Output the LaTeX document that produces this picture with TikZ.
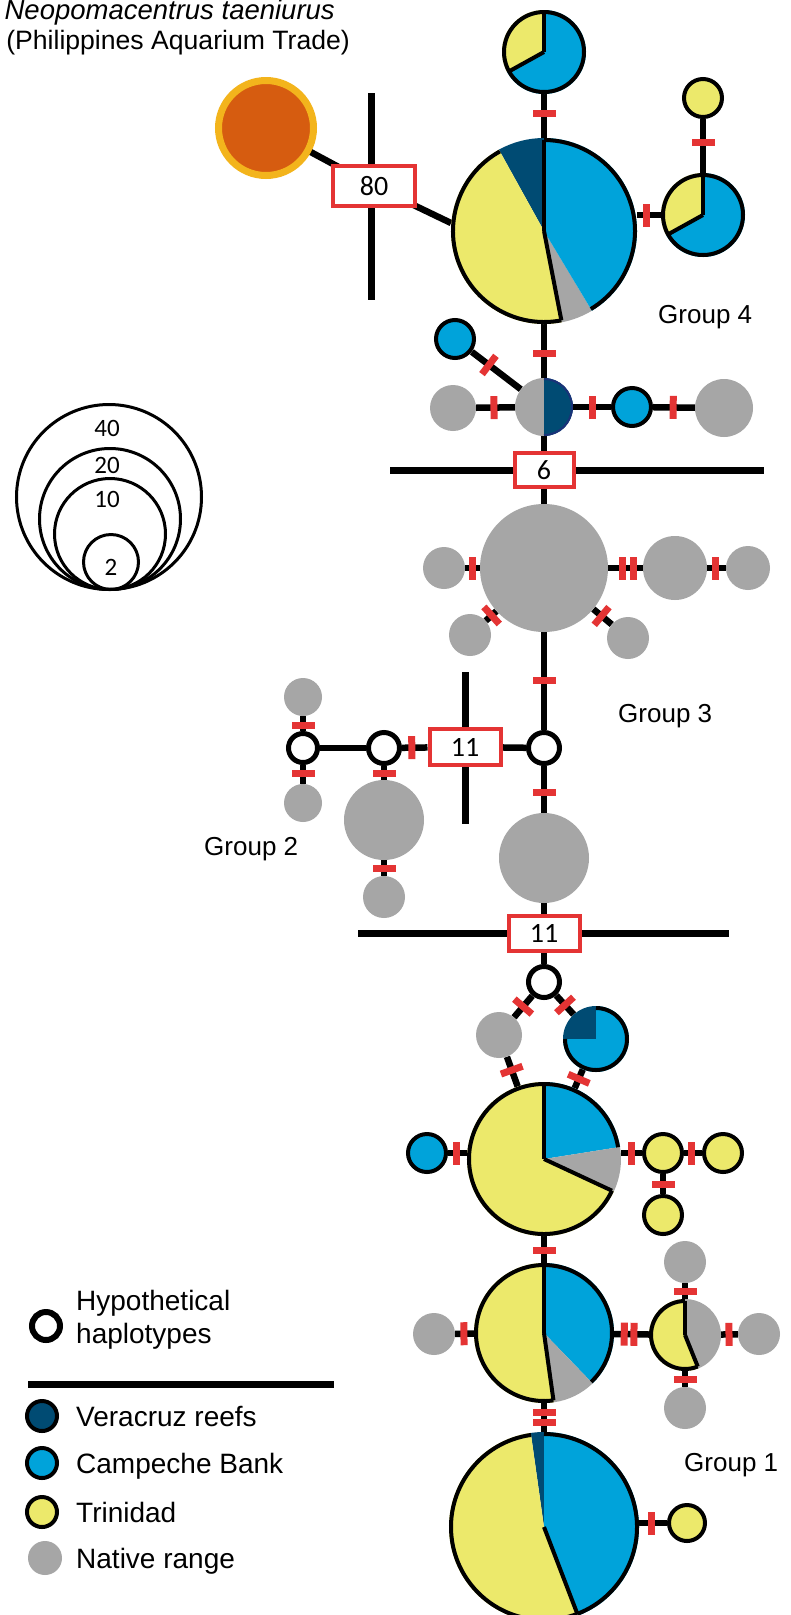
\documentclass[tikz,border=0pt]{standalone}
\usepackage{fontspec}
\setmainfont{Liberation Sans}
\newfontfamily\numfont{Carlito}
\usetikzlibrary{calc}
\definecolor{cblue}{RGB}{0,163,218}
\definecolor{cyel}{RGB}{236,233,107}
\definecolor{cnavy}{RGB}{0,75,115}
\definecolor{cgrey}{RGB}{166,166,166}
\definecolor{cred}{RGB}{228,52,52}
\definecolor{corange}{RGB}{214,92,16}
\definecolor{cdorange}{RGB}{168,66,14}
\definecolor{cgold}{RGB}{243,180,28}
\definecolor{cnavyrim}{RGB}{26,50,120}
\pgfdeclareradialshading{orangeglow}{\pgfpoint{0bp}{0bp}}{color(0bp)=(corange); color(33bp)=(corange); color(50bp)=(cdorange)}
\pgfdeclarelayer{bg}\pgfsetlayers{bg,main}
\tikzset{
  hap/.style={circle, inner sep=0pt, minimum size=2*#1},
  link/.style={line width=6.5pt, black},
  barrier/.style={line width=7pt, black},
  tick/.style={rectangle, fill=cred, inner sep=0pt, minimum width=7pt, minimum height=23pt, sloped},
  mbox/.style={draw=cred, line width=4pt, fill=white, inner sep=0pt, font=\numfont\fontsize{28}{28}\selectfont},
  rim/.style={draw=black, line width=4pt},
  spoke/.style={draw=black, line width=4pt},
  grouplab/.style={anchor=base west, inner sep=0pt, font=\fontsize{26}{30}\selectfont},
  legtext/.style={anchor=base west, inner sep=0pt, font=\fontsize{28}{32}\selectfont},
  sizering/.style={circle, draw=black, line width=3pt, inner sep=0pt},
  sizelab/.style={inner sep=0pt, font=\numfont\fontsize{25}{25}\selectfont},
  titletext/.style={anchor=base east, inner sep=0pt, font=\fontsize{26.6}{32}\selectfont},
}
\newcommand{\pieslice}[5]{\fill[#5] (#1.center) -- ++(#3:#2pt) arc[start angle=#3, end angle=#4, radius=#2pt] -- cycle;}
\newcommand{\rimarc}[4]{\draw[rim] (#1.center) ++(#3:#2pt) arc[start angle=#3, end angle=#4, radius=#2pt];}
\newcommand{\pspoke}[3]{\draw[spoke] (#1.center) -- ++(#3:#2pt);}
\newcommand{\gdisc}[3]{\fill[#3] (#1.center) circle[radius=#2pt];}
\newcommand{\bdisc}[3]{\filldraw[fill=#3, rim] (#1.center) circle[radius=#2pt];}
\newcommand{\hypnode}[2]{\filldraw[fill=white, draw=black, line width=5pt] (#1.center) circle[radius=#2pt];}
\begin{document}
\begin{tikzpicture}[x=1pt,y=1pt]
\useasboundingbox (0,0) rectangle (791,-1615);
% ---------- nodes ----------
\node[hap=51pt] (O) at (266,-128) {};
\node[hap=42pt] (T1) at (544,-52) {};
\node[hap=21pt] (T3) at (703,-98) {};
\node[hap=42pt] (T2) at (703,-215) {};
\node[hap=93pt] (G4) at (544,-231) {};
\coordinate (g4w) at (451,-223);
\node[hap=21pt] (B1) at (455,-339) {};
\node[hap=29pt] (GN) at (544,-407) {};
\node[hap=23pt] (GL) at (453,-408) {};
\node[hap=21pt] (BR) at (632,-407) {};
\node[hap=29pt] (GR) at (724,-408) {};
\node[hap=64pt] (G3) at (544,-568) {};
\node[hap=21pt] (G3L) at (444,-568) {};
\node[hap=32pt] (G3R1) at (675,-568) {};
\node[hap=22pt] (G3R2) at (748,-568) {};
\node[hap=21pt] (G3LL) at (470,-635) {};
\node[hap=21pt] (G3LR) at (628,-638) {};
\node[hap=18pt] (H3) at (544,-748) {};
\node[hap=45pt] (G3b) at (544,-858) {};
\node[hap=18pt] (H2a) at (384,-748) {};
\node[hap=17pt] (H2b) at (303,-748) {};
\node[hap=40pt] (G2) at (384,-820) {};
\node[hap=21pt] (G2s) at (384,-897) {};
\node[hap=19pt] (H2bU) at (303,-697) {};
\node[hap=19pt] (H2bD) at (303,-803) {};
\node[hap=18pt] (H1) at (544,-982) {};
\node[hap=23pt] (GG1) at (499,-1035) {};
\node[hap=33pt] (BN) at (596,-1039) {};
\node[hap=77pt] (G1a) at (544,-1159) {};
\node[hap=21pt] (G1aL) at (427,-1153) {};
\node[hap=21pt] (Y1) at (663,-1153) {};
\node[hap=21pt] (Y2) at (723,-1153) {};
\node[hap=21pt] (Y3) at (663,-1215) {};
\node[hap=70pt] (G1b) at (544,-1333) {};
\node[hap=21pt] (G1bL) at (434,-1334) {};
\node[hap=36pt] (SP) at (685,-1335) {};
\node[hap=21pt] (SPU) at (685,-1262) {};
\node[hap=21pt] (SPD) at (685,-1408) {};
\node[hap=21pt] (SPR) at (759,-1334) {};
\node[hap=95pt] (G1c) at (544,-1527) {};
\node[hap=20pt] (Y4) at (687,-1523) {};
% boxes
\node[mbox, minimum width=82pt, minimum height=40pt] (b80) at (374,-186) {80};
\node[mbox, minimum width=59pt, minimum height=34pt] (b6) at (544,-470) {6};
\node[mbox, minimum width=71pt, minimum height=36pt] (b11a) at (465,-747) {11};
\node[mbox, minimum width=71pt, minimum height=35pt] (b11b) at (544,-933) {11};
% barrier coordinates
\coordinate (v80t) at (371,-93); \coordinate (v80b) at (371,-300);
\coordinate (h6l) at (390,-470); \coordinate (h6r) at (764,-470);
\coordinate (v11t) at (465,-672); \coordinate (v11b) at (465,-824);
\coordinate (h11l) at (358,-933); \coordinate (h11r) at (729,-933);
\coordinate (legl) at (28,-1384); \coordinate (legr) at (334,-1384);
% ---------- connectors (background) ----------
\begin{pgfonlayer}{bg}
\fill[white] (0,0) rectangle (791,-1615);
\draw[barrier] (v80t) -- (v80b);
\draw[barrier] (h6l) -- (h6r);
\draw[barrier] (v11t) -- (v11b);
\draw[barrier] (h11l) -- (h11r);
\draw[barrier] (legl) -- (legr);
\draw[link] (O.center) -- (b80.center) -- (g4w);
\draw[link] (T1) -- node[tick,pos=0.45]{} (G4);
\draw[link] (T3) -- node[tick,pos=0.43]{} (T2);
\draw[link] (T2.west) -- node[tick,pos=0.62]{} (T2.west -| G4.east);
\draw[link] (G4) -- node[tick,pos=0.54]{} (GN);
\draw[link] (B1) -- node[tick,pos=0.35]{} (GN);
\draw[link] (GL) -- node[tick,pos=0.46]{} (GN);
\draw[link] (GN) -- node[tick,pos=0.5]{} (BR);
\draw[link] (BR) -- node[tick,pos=0.48]{} (GR);
\draw[link] (GN) -- (b6);
\draw[link] (b6) -- (G3);
\draw[link] (G3L) -- node[tick,pos=0.5]{} (G3);
\draw[link] (G3) -- node[tick,pos=0.4]{} node[tick,pos=0.72]{} (G3R1);
\draw[link] (G3R1) -- node[tick,pos=0.45]{} (G3R2);
\draw[link] (G3) -- node[tick,pos=0.45]{} (G3LL);
\draw[link] (G3) -- node[tick,pos=0.45]{} (G3LR);
\draw[link] (G3) -- node[tick,pos=0.49]{} (H3);
\draw[link] (H3) -- node[tick,pos=0.57]{} (G3b);
\draw[link] (G3b) -- (b11b);
\draw[link] (b11b) -- (H1);
\draw[link] (H3) -- (b11a);
\draw[link] (H2a) -- node[tick,pos=0.38]{} (b11a);
\draw[link] (H2b) -- (H2a);
\draw[link] (H2a) -- node[tick,pos=0.5]{} (G2);
\draw[link] (G2) -- node[tick,pos=0.5]{} (G2s);
\draw[link] (H2bU) -- node[tick,pos=0.64]{} (H2b);
\draw[link] (H2b) -- node[tick,pos=0.47]{} (H2bD);
\draw[link] (H1) -- node[tick,pos=0.5]{} (GG1);
\draw[link] (H1) -- node[tick,pos=0.5]{} (BN);
\draw[link] (GG1) -- node[tick,pos=0.45]{} (G1a);
\draw[link] (BN) -- node[tick,pos=0.5]{} (G1a);
\draw[link] (G1aL) -- node[tick,pos=0.47]{} (G1aL -| G1a.west);
\draw[link] (G1a.east |- Y1) -- node[tick,pos=0.48]{} (Y1);
\draw[link] (Y1) -- node[tick,pos=0.44]{} (Y2);
\draw[link] (Y1) -- node[tick,pos=0.5]{} (Y3);
\draw[link] (G1a) -- node[tick,pos=0.52]{} (G1b);
\draw[link] (G1bL) -- node[tick,pos=0.47]{} (G1b);
\draw[link] (G1b) -- node[tick,pos=0.29]{} node[tick,pos=0.57]{} (SP);
\draw[link] (SPU) -- node[tick,pos=0.56]{} (SP);
\draw[link] (SP) -- node[tick,pos=0.56]{} (SPD);
\draw[link] (SP) -- node[tick,pos=0.47]{} (SPR);
\draw[link] (G1b) -- node[tick,pos=0.31]{} node[tick,pos=0.69]{} (G1c);
\draw[link] (G1c.east |- Y4) -- node[tick,pos=0.46]{} (Y4);
\end{pgfonlayer}
% ---------- haplotype drawings ----------
% orange outgroup
\shade[shading=orangeglow] (O.center) circle[radius=45pt];
\draw[draw=cgold, line width=7pt] (O.center) circle[radius=47.5pt];
% Group 4
\pieslice{T1}{42}{90}{209}{cyel}\pieslice{T1}{42}{209}{450}{cblue}
\pspoke{T1}{40}{90}\pspoke{T1}{40}{209}\draw[rim] (T1.center) circle[radius=40pt];
\pieslice{T2}{42}{90}{209}{cyel}\pieslice{T2}{42}{209}{450}{cblue}
\pspoke{T2}{40}{90}\pspoke{T2}{40}{209}\draw[rim] (T2.center) circle[radius=40pt];
\bdisc{T3}{19}{cyel}
\pieslice{G4}{93}{90}{119}{cnavy}
\pieslice{G4}{93}{119}{281}{cyel}
\pieslice{G4}{93}{281}{301}{cgrey}
\pieslice{G4}{93}{301}{450}{cblue}
\rimarc{G4}{91}{119}{281}\rimarc{G4}{91}{301}{450}
\pspoke{G4}{91}{90}\pspoke{G4}{91}{281}
\bdisc{B1}{19}{cblue}
\pieslice{GN}{29}{90}{270}{cgrey}\pieslice{GN}{29}{-90}{90}{cnavy}
\draw[draw=cnavyrim, line width=2pt] (GN.center) ++(-90:28pt) arc[start angle=-90, end angle=90, radius=28pt];
\gdisc{GL}{23}{cgrey}
\bdisc{BR}{19}{cblue}
\gdisc{GR}{29}{cgrey}
% Group 3 and 2
\gdisc{G3}{64}{cgrey}\gdisc{G3L}{21}{cgrey}\gdisc{G3R1}{32}{cgrey}\gdisc{G3R2}{22}{cgrey}
\gdisc{G3LL}{21}{cgrey}\gdisc{G3LR}{21}{cgrey}
\hypnode{H3}{15.5}
\gdisc{G3b}{45}{cgrey}
\hypnode{H2a}{15.5}\hypnode{H2b}{14.5}
\gdisc{G2}{40}{cgrey}\gdisc{G2s}{21}{cgrey}\gdisc{H2bU}{19}{cgrey}\gdisc{H2bD}{19}{cgrey}
% Group 1
\hypnode{H1}{15.5}
\gdisc{GG1}{23}{cgrey}
\pieslice{BN}{33}{90}{180}{cnavy}\pieslice{BN}{33}{180}{450}{cblue}
\rimarc{BN}{31}{180}{450}
\pieslice{G1a}{77}{9}{90}{cblue}\pieslice{G1a}{77}{-25}{9}{cgrey}\pieslice{G1a}{77}{90}{335}{cyel}
\rimarc{G1a}{75}{9}{335}\pspoke{G1a}{75}{90}\pspoke{G1a}{75}{335}
\bdisc{G1aL}{19}{cblue}\bdisc{Y1}{19}{cyel}\bdisc{Y2}{19}{cyel}\bdisc{Y3}{19}{cyel}
\pieslice{G1b}{70}{-46}{90}{cblue}\pieslice{G1b}{70}{-82}{-46}{cgrey}\pieslice{G1b}{70}{90}{278}{cyel}
\rimarc{G1b}{68}{-46}{278}\pspoke{G1b}{68}{90}\pspoke{G1b}{68}{278}
\gdisc{G1bL}{21}{cgrey}
\pieslice{SP}{36}{90}{292}{cyel}\pieslice{SP}{36}{-68}{90}{cgrey}
\rimarc{SP}{34}{90}{292}\pspoke{SP}{34}{90}\pspoke{SP}{34}{292}
\gdisc{SPU}{21}{cgrey}\gdisc{SPD}{21}{cgrey}\gdisc{SPR}{21}{cgrey}
\pieslice{G1c}{95}{90}{98}{cnavy}\pieslice{G1c}{95}{98}{291}{cyel}\pieslice{G1c}{95}{-69}{90}{cblue}
\rimarc{G1c}{93}{98}{291}\rimarc{G1c}{93}{-69}{90}\pspoke{G1c}{93}{291}
\bdisc{Y4}{18}{cyel}
% ---------- labels ----------
\node[titletext, font=\itshape\fontsize{27.5}{32}\selectfont] (title1) at (335,-19) {Neopomacentrus taeniurus};
\node[titletext] (title2) at (350,-49) {(Philippines Aquarium Trade)};
\node[grouplab] (lab4) at (658,-323) {Group 4};
\node[grouplab] (lab3) at (618,-722) {Group 3};
\node[grouplab] (lab2) at (204,-855) {Group 2};
\node[grouplab] (lab1) at (684,-1471) {Group 1};
% size legend
\node[sizering, minimum size=185pt] (s40) at (109,-497) {};
\node[sizering, minimum size=141pt] (s20) at (110,-519) {};
\node[sizering, minimum size=111pt] (s10) at (110,-534) {};
\node[sizering, minimum size=55pt] (s2) at (111,-562) {};
\node[sizelab] (l40) at (107,-428) {40};
\node[sizelab] (l20) at (107,-465) {20};
\node[sizelab] (l10) at (107,-499) {10};
\node[sizelab] (l2) at (111,-567) {2};
% colour legend
\node[hap=17pt] (lh) at (46,-1326) {};
\filldraw[fill=white, draw=black, line width=6pt] (lh.center) circle[radius=14pt];
\node[legtext] (th1) at (76,-1310) {Hypothetical};
\node[legtext] (th2) at (76,-1343) {haplotypes};
\node[hap=17pt] (lv) at (42,-1416) {};
\node[hap=17pt] (lc) at (42,-1463) {};
\node[hap=17pt] (lt) at (42,-1512) {};
\node[hap=17pt] (ln) at (45,-1558) {};
\bdisc{lv}{15}{cnavy}\bdisc{lc}{15}{cblue}\bdisc{lt}{15}{cyel}\gdisc{ln}{17}{cgrey}
\node[legtext] (tv) at (76,-1426) {Veracruz reefs};
\node[legtext] (tc) at (76,-1473) {Campeche Bank};
\node[legtext] (tt) at (76,-1522) {Trinidad};
\node[legtext] (tn) at (76,-1568) {Native range};
\end{tikzpicture}
\end{document}
